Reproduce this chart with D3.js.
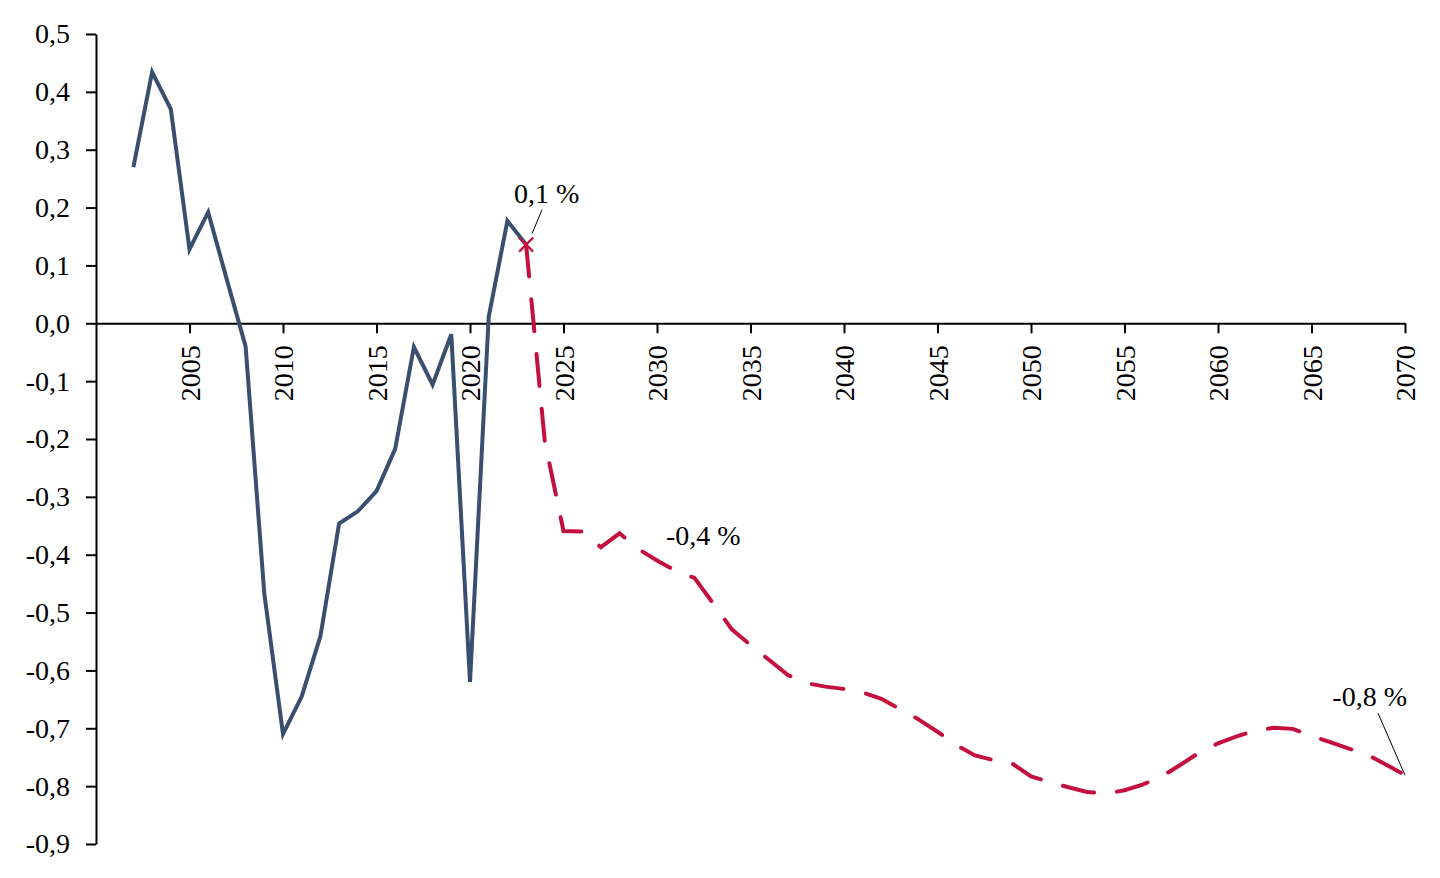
<!DOCTYPE html>
<html>
<head>
<meta charset="utf-8">
<script src="https://cdn.jsdelivr.net/npm/d3@7/dist/d3.min.js"></script>
<style>
  html, body { margin: 0; padding: 0; background: #fff; }
  svg { display: block; }
  text { font-family: "Liberation Serif", "DejaVu Serif", serif; fill: #000; }
</style>
</head>
<body>
<svg id="chart" width="1440" height="878"></svg>
<script>
// ---- Data ----
const histYears = d3.range(2002, 2024);
const histValues = [0.27, 0.434, 0.37, 0.128, 0.192, 0.075, -0.04, -0.467, -0.71, -0.645,
  -0.541, -0.346, -0.325, -0.29, -0.217, -0.041, -0.106, -0.019, -0.62, 0.011, 0.177, 0.136];

const projYears = d3.range(2023, 2071);
const projValues = [0.136, -0.204, -0.359, -0.36, -0.387, -0.363, -0.39, -0.41, -0.428, -0.44,
  -0.484, -0.529, -0.556, -0.582, -0.608, -0.622, -0.628, -0.632, -0.638, -0.649,
  -0.667, -0.685, -0.706, -0.729, -0.747, -0.755, -0.761, -0.783, -0.793, -0.802,
  -0.81, -0.813, -0.807, -0.797, -0.783, -0.763, -0.742, -0.726, -0.714, -0.704,
  -0.699, -0.701, -0.713, -0.724, -0.735, -0.746, -0.763, -0.781];

const xTickValues = d3.range(2005, 2071, 5);
const yTickValues = [0.5, 0.4, 0.3, 0.2, 0.1, 0.0, -0.1, -0.2, -0.3, -0.4, -0.5, -0.6, -0.7, -0.8, -0.9];

const annotationYears = [2023, 2030, 2070];
const annotationLabels = ["0,1 %", "-0,4 %", "-0,8 %"];

// ---- Scales ----
const svg = d3.select("#chart");
const x = d3.scaleLinear().domain([2000, 2070]).range([96, 1405]);
const y = d3.scaleLinear().domain([-0.9, 0.5]).range([844, 34]);

const fmt = v => d3.format(".1f")(v).replace(".", ",").replace("−", "-");
const FS = 28;

// ---- Y axis ----
const yAxis = svg.append("g")
  .attr("transform", `translate(${x(2000)},0)`)
  .call(d3.axisLeft(y).tickValues(yTickValues).tickSize(10).tickSizeOuter(0).tickPadding(16).tickFormat(fmt));
yAxis.select(".domain").attr("stroke", "#000").attr("stroke-width", 2);
yAxis.selectAll(".tick line").attr("stroke", "#000").attr("stroke-width", 2);
yAxis.selectAll(".tick text").attr("font-size", FS).attr("font-family", "Liberation Serif").attr("fill", "#000");

// ---- X axis (at zero) ----
const xAxis = svg.append("g")
  .attr("transform", `translate(0,${y(0)})`)
  .call(d3.axisBottom(x).tickValues(xTickValues).tickSize(10).tickSizeOuter(0).tickFormat(d3.format("d")));
xAxis.select(".domain").attr("stroke", "#000").attr("stroke-width", 2);
xAxis.selectAll(".tick line").attr("stroke", "#000").attr("stroke-width", 2);
xAxis.selectAll(".tick text")
  .attr("font-size", FS).attr("font-family", "Liberation Serif").attr("fill", "#000")
  .attr("text-anchor", "end")
  .attr("transform", "rotate(-90)")
  .attr("x", -22).attr("y", 0).attr("dy", "0.35em");

// ---- Lines ----
const line = d3.line().x(d => x(d[0])).y(d => y(d[1]));

svg.append("path")
  .datum(histYears.map((yr, i) => [yr, histValues[i]]))
  .attr("d", line)
  .attr("fill", "none")
  .attr("stroke", "#384f6f")
  .attr("stroke-width", 4)
  .attr("stroke-linejoin", "miter");

svg.append("path")
  .datum(projYears.map((yr, i) => [yr, projValues[i]]))
  .attr("d", line)
  .attr("fill", "none")
  .attr("stroke", "#c4103f")
  .attr("stroke-width", 4)
  .attr("stroke-linecap", "round")
  .attr("stroke-dasharray", "32,23");

// ---- X marker at 2023 ----
const mx = x(projYears[0]), my = y(projValues[0]);
svg.append("path")
  .attr("d", `M${mx-7},${my-7}L${mx+7},${my+7}M${mx-7},${my+7}L${mx+7},${my-7}`)
  .attr("stroke", "#c4103f").attr("stroke-width", 2.2);

// ---- Annotations ----
const valAt = yr => projValues[projYears.indexOf(yr)];
// 0,1 %
{
  const px = x(annotationYears[0]), py = y(valAt(annotationYears[0]));
  svg.append("line").attr("x1", px + 6).attr("y1", py - 11).attr("x2", px + 16).attr("y2", py - 35)
    .attr("stroke", "#000").attr("stroke-width", 1);
  svg.append("text").attr("x", px - 12).attr("y", py - 42).attr("font-size", FS).text(annotationLabels[0]);
}
// -0,4 %
{
  const px = x(annotationYears[1]), py = y(valAt(annotationYears[1]));
  svg.append("text").attr("x", px + 9).attr("y", py - 16).attr("font-size", FS).text(annotationLabels[1]);
}
// -0,8 %
{
  const px = x(annotationYears[2]), py = y(valAt(annotationYears[2]));
  svg.append("line").attr("x1", px).attr("y1", py).attr("x2", px - 27).attr("y2", py - 62)
    .attr("stroke", "#000").attr("stroke-width", 1);
  svg.append("text").attr("x", px + 2).attr("y", py - 69).attr("text-anchor", "end").attr("font-size", FS).text(annotationLabels[2]);
}
</script>
</body>
</html>
